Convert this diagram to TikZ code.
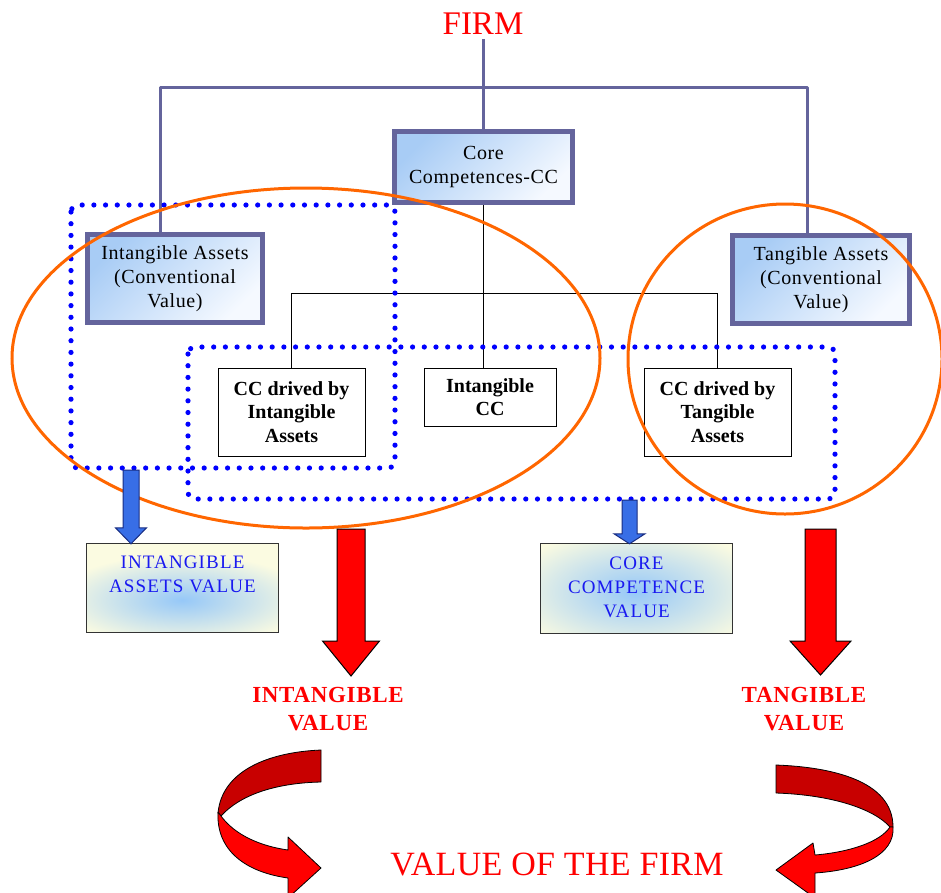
\documentclass[tikz,border=0pt]{standalone}
\usepackage{fontspec}
\setmainfont{Liberation Serif}
\usetikzlibrary{calc}

\definecolor{linkc}{RGB}{100,100,156}
\definecolor{boxtl}{RGB}{168,204,245}
\definecolor{boxbr}{RGB}{245,249,255}
\definecolor{dotblue}{RGB}{0,0,255}
\definecolor{ringc}{RGB}{255,102,0}
\definecolor{valfill}{RGB}{251,251,225}
\definecolor{glowc}{RGB}{150,200,248}
\definecolor{valtext}{RGB}{25,25,240}
\definecolor{arrblue}{RGB}{56,110,230}
\definecolor{arrblueedge}{RGB}{25,45,130}
\definecolor{ribdark}{RGB}{200,0,0}
\definecolor{ribbright}{RGB}{255,0,0}
\definecolor{redtext}{RGB}{255,0,0}

% vertical block arrow: from #1 down to the height of #2
% #3 half shaft width, #4 half head width, #5 head length, #6 style
\newcommand\downblock[6]{%
  \path[#6] let \p1=(#1), \p2=(#2) in
    (\x1-#3,\y1) -- (\x1+#3,\y1) -- (\x1+#3,\y2+#5) -- (\x1+#4,\y2+#5)
    -- (\x1,\y2) -- (\x1-#4,\y2+#5) -- (\x1-#3,\y2+#5) -- cycle;}

\tikzset{
  link/.style={draw=linkc, line width=3pt},
  bigbox/.style={draw=linkc, line width=5pt, top color=boxtl, bottom color=boxbr,
    shading angle=45, inner sep=0pt, align=center,
    font=\fontsize{20}{24}\selectfont\addfontfeatures{LetterSpace=3}},
  ccbox/.style={draw=black, line width=1pt, fill=white, inner sep=0pt, align=center,
    font=\fontsize{20}{23.5}\selectfont\bfseries},
  tie/.style={draw=black, line width=1pt},
  dotbox/.style={draw=dotblue, line width=5.2pt, dash pattern=on 0pt off 11.7pt,
    line cap=round, rounded corners=7pt},
  ring/.style={draw=ringc, line width=3pt},
  valbox/.style={fill=valfill, inner sep=0pt},
  valedge/.style={draw=black!80, line width=1pt},
  valtxt/.style={text=valtext, inner sep=0pt, align=center,
    font=\fontsize{19}{24}\selectfont\addfontfeatures{LetterSpace=6}},
  bluearrow/.style={fill=arrblue, draw=arrblueedge, line width=1pt},
  redarrow/.style={fill=ribbright, draw=black, line width=1pt},
  redlabel/.style={text=redtext, align=center, inner sep=0pt,
    font=\fontsize{23}{28}\selectfont\bfseries\addfontfeatures{LetterSpace=3}},
  ribbon/.style={draw=black, line width=0.8pt, line join=round},
}

\begin{document}
\begin{tikzpicture}[x=1pt, y=-1pt]
\useasboundingbox (0,0) rectangle (941,892);
\clip (0,0) rectangle (941,892);

% title
\node[text=redtext, font=\fontsize{33}{36}\selectfont, inner sep=0pt] (firm) at (483,24) {FIRM};

% first level boxes
\node[bigbox, minimum width=178pt, minimum height=71pt] (core) at (483.5,167) {Core\\Competences-CC};
\node[bigbox, minimum width=175pt, minimum height=88pt] (ia) at (175,278.5) {Intangible Assets\\(Conventional\\Value)};
\node[bigbox, minimum width=177pt, minimum height=88pt] (ta) at (821,279.5) {Tangible Assets\\(Conventional\\Value)};

% firm bus
\coordinate (busL) at (160,87);
\coordinate (busR) at (807,87);
\draw[link] ([yshift=-4pt]firm.south) -- (firm.south |- core.north);
\draw[link, line join=round] (busL |- ia.north) -- (busL) -- (busR) -- (busR |- ta.north);

% core competence boxes
\node[ccbox, minimum width=147pt, minimum height=88pt] (cci) at (291.5,412) {CC drived by\\Intangible\\Assets};
\node[ccbox, minimum width=132pt, minimum height=58pt] (icc) at (490,397) {Intangible\\CC};
\node[ccbox, minimum width=147pt, minimum height=88pt] (cct) at (717.5,412) {CC drived by\\Tangible\\Assets};

\coordinate (tbus) at (483,293);
\draw[tie] (core.south -| tbus) -- (tbus |- icc.north);
\draw[tie] (cci.north) -- (cci.north |- tbus) -- (cct.north |- tbus) -- (cct.north);

% dotted groupings
\draw[dotbox] (71,205) rectangle (395,468);
\draw[dotbox] (188,347) rectangle (835,499);

% value rings
\draw[ring] (306,358) ellipse [x radius=294pt, y radius=170pt];
\draw[ring] (785,359) ellipse [x radius=157pt, y radius=155pt];

% value boxes
\node[valbox, minimum width=191pt, minimum height=88pt] (ivb) at (182.5,588) {};
\node[valbox, minimum width=191pt, minimum height=89pt] (cvb) at (636.5,588.5) {};
\begin{scope}
  \clip (ivb.south west) rectangle (ivb.north east);
  \shade[inner color=glowc, outer color=valfill] (182,600) ellipse [x radius=128pt, y radius=46pt];
\end{scope}
\begin{scope}
  \clip (cvb.south west) rectangle (cvb.north east);
  \shade[inner color=glowc, outer color=valfill] (636,592) ellipse [x radius=132pt, y radius=64pt];
\end{scope}
\draw[valedge] (ivb.south west) rectangle (ivb.north east);
\draw[valedge] (cvb.south west) rectangle (cvb.north east);
\node[valtxt, anchor=north] at ([yshift=-12pt]ivb.north) {INTANGIBLE\\ASSETS VALUE};
\node[valtxt, anchor=north] at ([yshift=-13pt]cvb.north) {CORE\\COMPETENCE\\VALUE};

% blue arrows into the value boxes
\coordinate (iaFrom) at (131,470);
\coordinate (ccFrom) at (629.5,500);
\downblock{iaFrom}{ivb.north}{8pt}{15.5pt}{16pt}{bluearrow}
\downblock{ccFrom}{cvb.north}{7.5pt}{15.5pt}{10pt}{bluearrow}

% red arrows down to the values
\coordinate (ivTop) at (351,529);
\coordinate (ivTip) at (351,676);
\coordinate (tvTop) at (820.5,529);
\coordinate (tvTip) at (820.5,675);
\downblock{ivTop}{ivTip}{14pt}{28.5pt}{35pt}{redarrow}
\downblock{tvTop}{tvTip}{15.5pt}{30.5pt}{34pt}{redarrow}

\node[redlabel] (ivlabel) at (328,709) {INTANGIBLE\\VALUE};
\node[redlabel] (tvlabel) at (804,709) {TANGIBLE\\VALUE};

% turning ribbon arrows towards the firm value
\path[ribbon, fill=ribdark] (321,750) .. controls (270,752) and (222,770) .. (218,813)
  -- (221,816) .. controls (240,795) and (275,783) .. (321,782) -- cycle;
\path[ribbon, fill=ribbright] (218,812) .. controls (216,850) and (245,872) .. (288,878)
  -- (288,898) -- (321,868) -- (288,837) -- (288,850)
  .. controls (260,846) and (235,835) .. (221,816) -- cycle;

\path[ribbon, fill=ribdark] (776,765) .. controls (830,767) and (893,780) .. (893,827)
  -- (890,827) .. controls (875,810) and (835,795) .. (776,793) -- cycle;
\path[ribbon, fill=ribbright] (893,827) .. controls (895,855) and (860,870) .. (815,873)
  -- (815,898) -- (776,870) -- (813,843) -- (815,855)
  .. controls (850,852) and (880,842) .. (890,827) -- cycle;

\node[text=redtext, inner sep=0pt, font=\fontsize{34}{38}\selectfont\addfontfeatures{LetterSpace=1}] (vfirm) at (557,864) {VALUE OF THE FIRM};
\end{tikzpicture}
\end{document}
